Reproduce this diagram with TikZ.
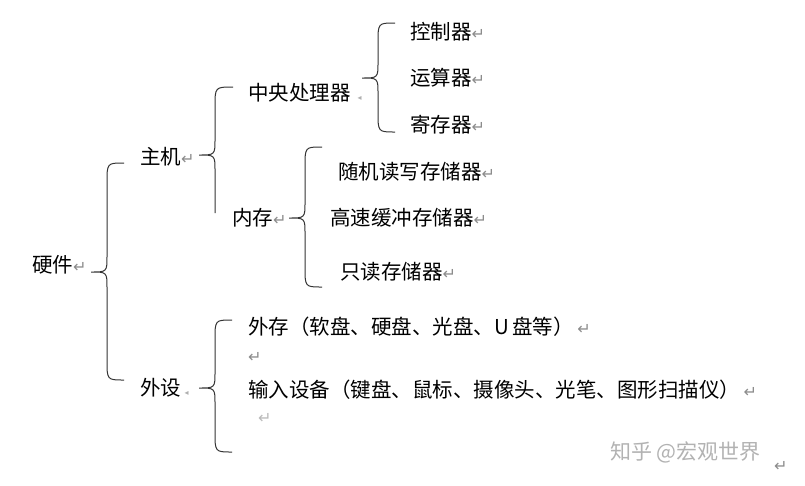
\documentclass[tikz,border=0pt]{standalone}
\usepackage{fontspec}
\setmainfont{Noto Sans CJK SC}
\newfontfamily\markfont{DejaVu Sans}
\usetikzlibrary{positioning}
\definecolor{markgray}{gray}{0.55}
\definecolor{wmgray}{gray}{0.70}
\newcommand{\ret}{{\markfont\fontsize{16}{16}\selectfont\textcolor{markgray}{↵}}}
\newcommand{\dimret}{{\markfont\fontsize{8}{8}\selectfont\textcolor{markgray!70}{◂}}}
% curly brace: {stem x}{top y}{tip y}{bottom y}
\newcommand{\curlbrace}[4]{%
  \draw[braceline] (#1+17,#2) .. controls (#1,#2) .. (#1,#2+20) -- (#1,#3-16)
    .. controls (#1,#3) .. (#1-16,#3) .. controls (#1,#3) .. (#1,#3+16)
    -- (#1,#4-20) .. controls (#1,#4) .. (#1+17,#4);}

\begin{document}
\begin{tikzpicture}[x=1pt,y=-1pt,
  item/.style={anchor=west,inner sep=0pt,font=\fontsize{20.5}{21}\selectfont},
  braceline/.style={draw=black!80,line width=1pt},
  wm/.style={anchor=west,inner sep=0pt,text=wmgray,font=\fontsize{21}{21}\selectfont}]
\useasboundingbox (0,0) rectangle (805,485);

% level 0 and 1
\node[item] (hw) at (32,265) {硬件\ret};
\node[item] (host) at (140,157) {主机\ret};
\node[item] (periph) at (140,388) {外设\,\dimret};

% level 2
\node[item] (cpu) at (248,93) {中央处理器\,\,\dimret};
\node[item] (mem) at (232,218) {内存\ret};

% level 3
\node[item] (ctrl) at (410,32) {控制器\ret};
\node[item] (alu) at (410,78) {运算器\ret};
\node[item] (reg) at (410,125) {寄存器\ret};
\node[item] (ram) at (338,172) {随机读写存储器\ret};
\node[item] (cache) at (330,218) {高速缓冲存储器\ret};
\node[item] (rom) at (340,272) {只读存储器\ret};
\node[item] (ext) at (248,327) {外存（软盘、硬盘、光盘、U\,盘等）\,\ret};
\node[item] (gap1) at (248,357) {\ret};
\node[item] (input) at (248,390) {输入设备（键盘、鼠标、摄像头、光笔、图形扫描仪）\,\ret};
\node[item] (gap2) at (258,418) {{\markfont\fontsize{16}{16}\selectfont\textcolor{markgray!60}{↵}}};

% braces
\curlbrace{107}{163}{272}{380}
\curlbrace{378}{23}{78}{132}
\curlbrace{305}{147}{218}{287}
\curlbrace{215}{320}{388}{452}
\draw[braceline] (233,87) .. controls (215,87) .. (215,107) -- (215,139)
  .. controls (215,155) .. (199,155) .. controls (215,155) .. (215,171) -- (215,213);

% watermark
\node[wm] (mark) at (610,452) {知乎 @宏观世界};
\node[item] (endret) at (774,466) {\ret};
\end{tikzpicture}
\end{document}
